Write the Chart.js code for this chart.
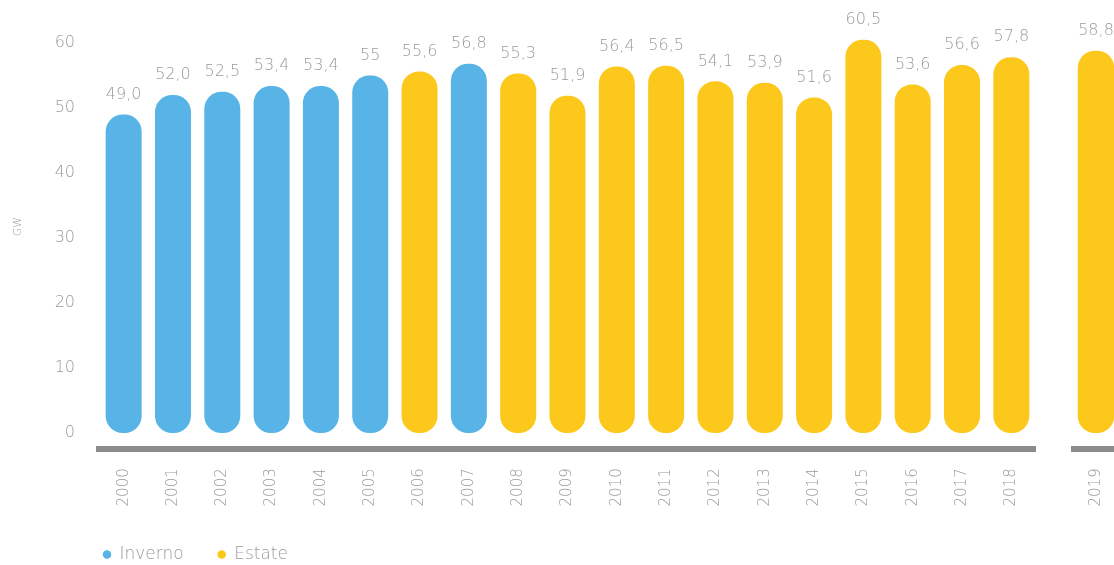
<!DOCTYPE html>
<html>
<head>
<meta charset="utf-8">
<script src="https://cdn.jsdelivr.net/npm/chart.js@4/dist/chart.umd.min.js"></script>
<style>
  html, body { margin: 0; padding: 0; background: #ffffff; overflow: hidden; width: 1114px; height: 565px; }
  #main { position: absolute; left: 0; top: 0; width: 1036px; height: 573px; }
  #side { position: absolute; left: 1071px; top: 0; width: 50px; height: 573px; }
</style>
</head>
<body>
<div id="main"><canvas id="c1"></canvas></div>
<div id="side"><canvas id="c2"></canvas></div>
<script>
// ---- data ----
const years = ['2000','2001','2002','2003','2004','2005','2006','2007','2008','2009',
               '2010','2011','2012','2013','2014','2015','2016','2017','2018','2019'];
const inverno = [49.0, 52.0, 52.5, 53.4, 53.4, 55.0, null, 56.8, null, null,
                 null, null, null, null, null, null, null, null, null, null];
const estate  = [null, null, null, null, null, null, 55.6, null, 55.3, 51.9,
                 56.4, 56.5, 54.1, 53.9, 51.6, 60.5, 53.6, 56.6, 57.8, 58.8];
const valueLabels = ['49,0','52,0','52,5','53,4','53,4','55','55,6','56,8','55,3','51,9',
                     '56,4','56,5','54,1','53,9','51,6','60,5','53,6','56,6','57,8','58,8'];
const seriesNames = ['Inverno', 'Estate'];
const yTicks = [0, 10, 20, 30, 40, 50, 60];
const yTitle = 'GW';

// ---- style ----
const BLUE = '#58b4e6';
const YELLOW = '#fcc81c';
const GREY = '#9a9a9a';
const FONT = '"DejaVu Sans", sans-serif';
const SPLIT = 19; // first panel 2000-2018, second panel 2019

const valueText = {
  id: 'valueText',
  afterDatasetsDraw(chart, args, opts) {
    const ctx = chart.ctx;
    ctx.save();
    ctx.font = '300 16px ' + FONT;
    ctx.fillStyle = GREY;
    ctx.textAlign = 'center';
    ctx.textBaseline = 'middle';
    chart.data.datasets.forEach((ds, di) => {
      const meta = chart.getDatasetMeta(di);
      meta.data.forEach((el, i) => {
        if (ds.data[i] === null || ds.data[i] === undefined) return;
        ctx.fillText(opts.labels[i], el.x, el.y - 20);
      });
    });
    ctx.restore();
  }
};

const legendShift = {
  id: 'legendShift',
  afterLayout(chart) {
    const lg = chart.legend;
    if (!lg || !lg.options.display) return;
    const pad = lg.options.labels.padding;
    const w = lg.right - lg.left;
    lg.left = chart.chartArea.left + 4 - pad;
    lg.right = lg.left + w;
  }
};

function makeDatasets(from, to) {
  return [
    { label: seriesNames[0], data: inverno.slice(from, to), backgroundColor: BLUE },
    { label: seriesNames[1], data: estate.slice(from, to), backgroundColor: YELLOW }
  ].map(d => Object.assign(d, {
    borderWidth: 0,
    borderRadius: 17,
    borderSkipped: false,
    grouped: false,
    categoryPercentage: 1.0,
    barPercentage: 0.73
  }));
}

function yScale(show) {
  return {
    display: show,
    min: -2.5,
    max: 66,
    grid: { display: false, drawTicks: false },
    border: { display: false },
    afterFit(s) {
      if (show) s.width = 99;
      s.paddingTop = 0; s.paddingBottom = 0;
    },
    afterBuildTicks(s) { s.ticks = yTicks.map(v => ({ value: v })); },
    ticks: {
      padding: 24,
      color: GREY,
      font: { family: FONT, size: 16, weight: '300' }
    },
    title: {
      display: show,
      text: yTitle,
      color: GREY,
      font: { family: FONT, size: 11, weight: '300' },
      padding: { top: 12, bottom: 0 }
    }
  };
}

function xScale() {
  return {
    grid: { display: false, drawTicks: false },
    border: { display: true, color: '#8c8c8c', width: 6 },
    afterFit(s) {
      s.height = 62.75;
      s.paddingLeft = 0; s.paddingRight = 0;
    },
    ticks: {
      minRotation: 90,
      maxRotation: 90,
      autoSkip: false,
      padding: 19,
      color: GREY,
      font: { family: FONT, size: 15, weight: '300' }
    }
  };
}

new Chart(document.getElementById('c1'), {
  type: 'bar',
  data: { labels: years.slice(0, SPLIT), datasets: makeDatasets(0, SPLIT) },
  options: {
    responsive: true,
    maintainAspectRatio: false,
    animation: false,
    layout: { padding: { top: 4, left: 0, right: 0, bottom: 0 } },
    scales: { x: xScale(), y: yScale(true) },
    plugins: {
      tooltip: { enabled: false },
      valueText: { labels: valueLabels.slice(0, SPLIT) },
      legend: {
        display: true,
        position: 'bottom',
        align: 'start',
        fullSize: false,
        labels: {
          usePointStyle: true,
          pointStyle: 'circle',
          boxWidth: 8,
          boxHeight: 6,
          padding: 34,
          color: GREY,
          font: { family: FONT, size: 17, weight: '300' }
        }
      }
    }
  },
  plugins: [valueText, legendShift]
});

new Chart(document.getElementById('c2'), {
  type: 'bar',
  data: { labels: years.slice(SPLIT), datasets: makeDatasets(SPLIT, years.length) },
  options: {
    responsive: true,
    maintainAspectRatio: false,
    animation: false,
    layout: { padding: { top: 4, left: 0, right: 0, bottom: 61 } },
    scales: { x: xScale(), y: yScale(false) },
    plugins: {
      tooltip: { enabled: false },
      legend: { display: false },
      valueText: { labels: valueLabels.slice(SPLIT) }
    }
  },
  plugins: [valueText]
});
</script>
</body>
</html>
